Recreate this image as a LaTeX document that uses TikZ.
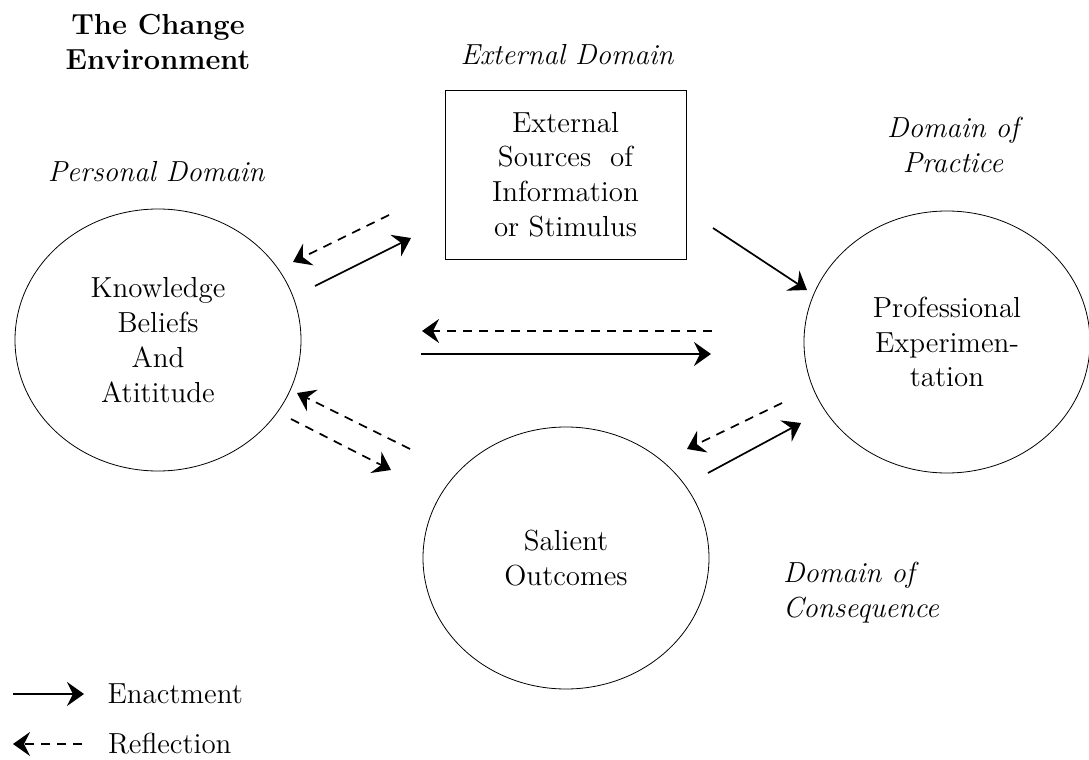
\documentclass[tikz,border=0pt]{standalone}
\usetikzlibrary{shapes.geometric,arrows.meta}

\tikzset{
  txt/.style={font=\fontsize{14.5}{17.4}\selectfont, align=center},
  domlabel/.style={font=\fontsize{14.5}{17.4}\selectfont\itshape, align=center},
  realm/.style={ellipse, draw, thin, minimum width=143pt, minimum height=131pt, inner sep=0pt, txt},
  enact/.style={-{Stealth[length=8.5pt,width=12pt,inset=3pt]}, line width=0.85pt},
  reflect/.style={enact, dash pattern=on 4.5pt off 3.5pt}
}

\begin{document}
\begin{tikzpicture}[x=0.5pt, y=-0.5pt]
        \useasboundingbox (0,0) rectangle (1089,760);

        % headings
        \node[txt, font=\fontsize{14.5}{17.4}\selectfont\bfseries] (title) at (158,42) {The Change\\Environment};
        \node[domlabel] (personal) at (156,172) {Personal Domain};
        \node[domlabel] (external) at (567,55) {External Domain};
        \node[domlabel] (practice) at (953,145) {Domain of\\Practice};
        \node[domlabel, anchor=west, align=left] (consequence) at (776,593) {Domain of\\Consequence};

        % domains
        \node[realm] (know) at (158,340) {Knowledge\\Beliefs\\And\\Atititude};
        \node[draw, thin, txt, minimum width=120.5pt, minimum height=84.5pt, inner sep=0pt] (source) at (565.5,174.5) {External\\Sources~ of\\Information\\or Stimulus};
        \node[realm] (prof) at (947,342) {Professional\\Experimen-\\tation};
        \node[realm] (sal) at (566,558) {Salient\\Outcomes};

        % free ends of the arrows
        \coordinate (ks-a) at (389,215);  \coordinate (ks-b) at (293,262);
        \coordinate (ks-c) at (315,286);  \coordinate (ks-d) at (411,238);
        \coordinate (sp-a) at (713,228);  \coordinate (sp-b) at (807,290);
        \coordinate (kp-a) at (712,331);  \coordinate (kp-b) at (422,331);
        \coordinate (kp-c) at (421,354);  \coordinate (kp-d) at (711,354);
        \coordinate (ko-a) at (410,449);  \coordinate (ko-b) at (297,393);
        \coordinate (ko-c) at (291,419);  \coordinate (ko-d) at (391,470);
        \coordinate (op-a) at (782,403);  \coordinate (op-b) at (687,449);
        \coordinate (op-c) at (708,473);  \coordinate (op-d) at (801,423);

        \draw[reflect] (ks-a) -- (ks-b);
        \draw[enact] (ks-c) -- (ks-d);
        \draw[enact] (sp-a) -- (sp-b);
        \draw[reflect] (kp-a) -- (kp-b);
        \draw[enact] (kp-c) -- (kp-d);
        \draw[reflect] (ko-a) -- (ko-b);
        \draw[reflect] (ko-c) -- (ko-d);
        \draw[reflect] (op-a) -- (op-b);
        \draw[enact] (op-c) -- (op-d);

        % legend
        \coordinate (leg-a) at (13,694);  \coordinate (leg-b) at (84,694);
        \coordinate (leg-c) at (82,744);  \coordinate (leg-d) at (13,744);
        \draw[enact] (leg-a) -- (leg-b) node[txt, anchor=west, xshift=8pt] (enactment) {Enactment};
        \draw[reflect] (leg-c) -- (leg-d);
        \node[txt, anchor=west] (reflection) at (101,744) {Reflection};

    \end{tikzpicture}
\end{document}
